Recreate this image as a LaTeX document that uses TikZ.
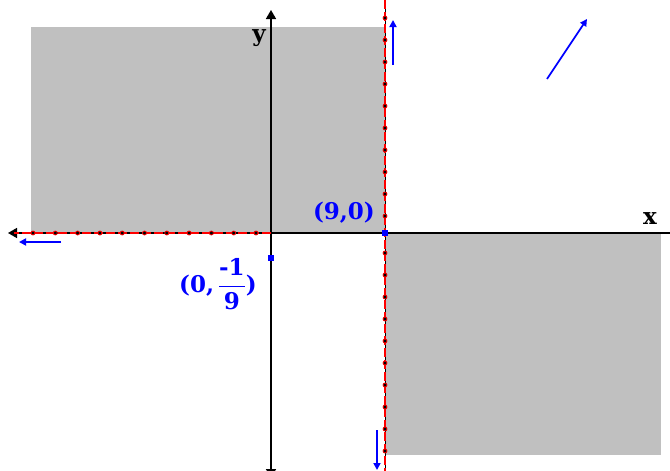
\documentclass[tikz,border=0pt]{standalone}
\usepackage{fontspec}
\usepackage{amsmath}
\usepackage{tikz}
\usetikzlibrary{arrows.meta}
\newfontfamily\plotfont{DejaVu Serif}
\definecolor{shade-gray}{HTML}{C0C0C0}
\definecolor{pt-blue}{HTML}{0000FF}
\definecolor{bd-red}{HTML}{FF0000}
\tikzset{
  axisline/.style={black, line width=1.6pt, -{Triangle[width=10pt,length=9pt]}},
  bdline/.style={bd-red, line width=1.5pt, dash pattern=on 9pt off 3pt},
  tickmark/.style={circle, draw=bd-red, fill=black, inner sep=0pt, minimum size=4pt, line width=0.8pt},
  dirarrow/.style={pt-blue, line width=1.7pt, -{Triangle[width=7pt,length=7pt]}},
  bluedot/.style={rectangle, fill=pt-blue, inner sep=0pt, minimum size=6pt},
  ptlabel/.style={pt-blue, inner sep=0pt, font=\fontsize{23}{26}\selectfont\plotfont\bfseries},
  axlabel/.style={black, inner sep=0pt, font=\fontsize{23}{26}\selectfont\plotfont\bfseries}
}

\begin{document}
\begin{tikzpicture}[x=1pt,y=-1pt]
    \useasboundingbox (0,0) rectangle (670,471);
    \fill[shade-gray] (31,27) rectangle (385,233);
    \fill[shade-gray] (385,233) rectangle (661,455);

    \coordinate (o) at (271,233);
    \coordinate (xl) at (8,233);
    \coordinate (xr) at (679,233);
    \coordinate (yt) at (271,10);
    \coordinate (yb) at (271,478);
    \draw[axisline] (o) -- (xl);
    \draw[axisline] (o) -- (xr);
    \draw[axisline] (o) -- (yt);
    \draw[axisline] (o) -- (yb);

    \coordinate (vt) at (385,0);
    \coordinate (vb) at (385,471);
    \coordinate (hl) at (14,233);
    \draw[black, line width=1pt] (vt) -- (vb);
    \draw[bdline] (vt) -- (vb);
    \draw[bdline] (o) -- (hl);
    \foreach \k in {0,...,10}
        \node[tickmark] (h\k) at (256-22.3*\k,233) {};
    \foreach \k in {0,...,9} {
        \node[tickmark] (u\k) at (385,216-22*\k) {};
        \node[tickmark] (d\k) at (385,253+22*\k) {};
    }

    \node[bluedot] (p90) at (385,233) {};
    \node[bluedot] (p0) at (271,258) {};
    \node[ptlabel, anchor=east] (lab90) at (375,213) {(9,0)};
    \node[ptlabel] (lab0) at (218,284) {(0,\,$\dfrac{\mbox{-1}}{\mbox{9}}$)};
    \node[axlabel] (labx) at (650,219) {x};
    \node[axlabel] (laby) at (259,38) {y};

    \coordinate (ua) at (393,65);
    \coordinate (ub) at (393,20);
    \coordinate (da) at (377,430);
    \coordinate (db) at (377,470);
    \coordinate (la) at (61,242);
    \coordinate (lb) at (19,242);
    \coordinate (ga) at (547,79);
    \coordinate (gb) at (587,19);
    \draw[dirarrow] (ua) -- (ub);
    \draw[dirarrow] (da) -- (db);
    \draw[dirarrow] (la) -- (lb);
    \draw[dirarrow] (ga) -- (gb);
\end{tikzpicture}
\end{document}
